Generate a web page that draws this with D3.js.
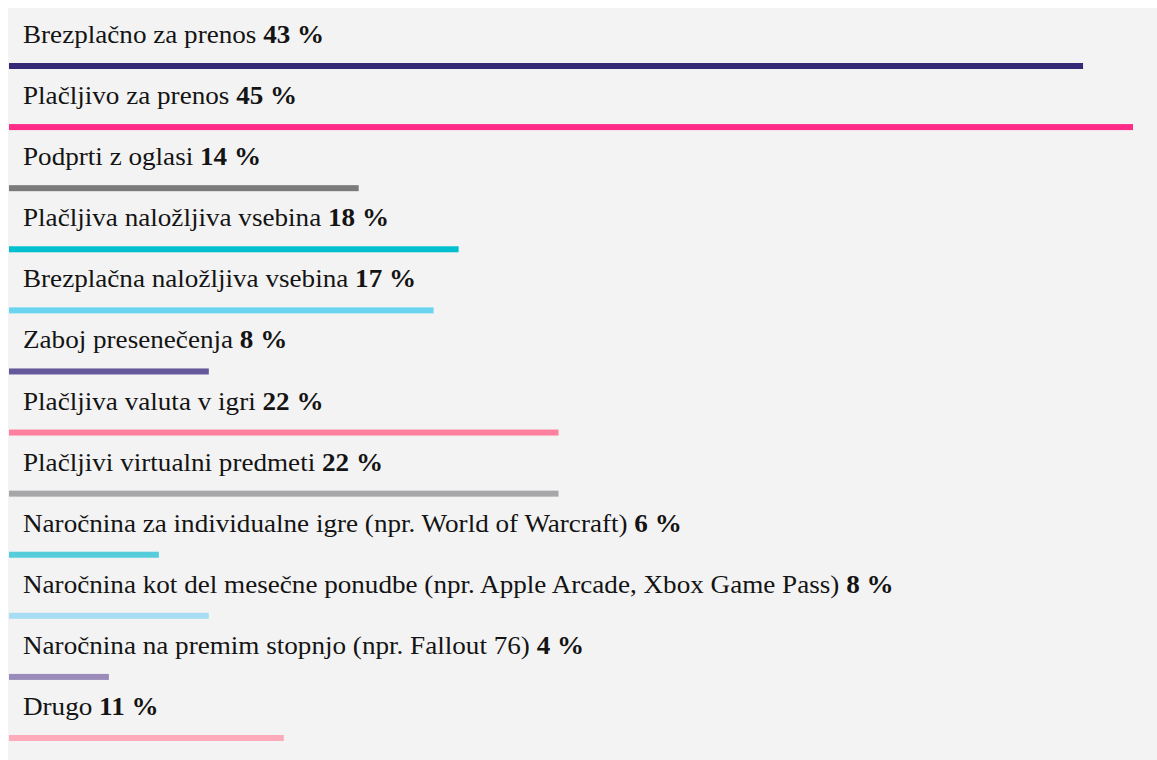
<!DOCTYPE html>
<html>
<head>
<meta charset="utf-8">
<script src="https://cdn.jsdelivr.net/npm/d3@7"></script>
<style>
  html, body { margin: 0; padding: 0; background: #ffffff; }
  svg { display: block; }
  .lbl { font-family: "Liberation Serif", Tinos, "Times New Roman", "DejaVu Serif", serif; font-size: 25px; fill: #141414; }
</style>
</head>
<body>
<svg id="chart" width="1157" height="760"></svg>
<script>
// Monetisation models and the share of respondents choosing each
const categories = [
  "Brezplačno za prenos",
  "Plačljivo za prenos",
  "Podprti z oglasi",
  "Plačljiva naložljiva vsebina",
  "Brezplačna naložljiva vsebina",
  "Zaboj presenečenja",
  "Plačljiva valuta v igri",
  "Plačljivi virtualni predmeti",
  "Naročnina za individualne igre (npr. World of Warcraft)",
  "Naročnina kot del mesečne ponudbe (npr. Apple Arcade, Xbox Game Pass)",
  "Naročnina na premim stopnjo (npr. Fallout 76)",
  "Drugo"
];
const values = [43, 45, 14, 18, 17, 8, 22, 22, 6, 8, 4, 11];
const colors = [
  "#352a78", "#ff2b86", "#7b7b7b", "#00bfcf",
  "#69d5f0", "#64579a", "#ff7f9f", "#a7a7a9",
  "#55cddb", "#a7def4", "#9a8bbb", "#fdaabb"
];

const svg = d3.select("#chart");

// light panel behind the list
svg.append("rect")
  .attr("x", 8).attr("y", 8)
  .attr("width", 1149).attr("height", 752)
  .attr("fill", "#f3f3f3");

const barLeft = 9;
const x = d3.scaleLinear().domain([0, 45]).range([0, 1124]);
const y = d3.scalePoint().domain(categories).range([66, 738]);

const rows = svg.selectAll("g.row")
  .data(categories.map((c, i) => ({ c, v: values[i], col: colors[i] })))
  .join("g")
  .attr("class", "row");

rows.append("rect")
  .attr("x", barLeft)
  .attr("y", d => y(d.c) - 3)
  .attr("width", d => x(d.v))
  .attr("height", 6)
  .attr("fill", d => d.col);

// labels are set slightly wide, as in the printed layout
const label = rows.append("text")
  .attr("class", "lbl")
  .attr("transform", d => `translate(23,${y(d.c) - 23}) scale(1.085,1)`);

label.append("tspan").text(d => d.c + " ");
label.append("tspan")
  .attr("font-weight", "bold")
  .text(d => d.v + " %");
</script>
</body>
</html>
